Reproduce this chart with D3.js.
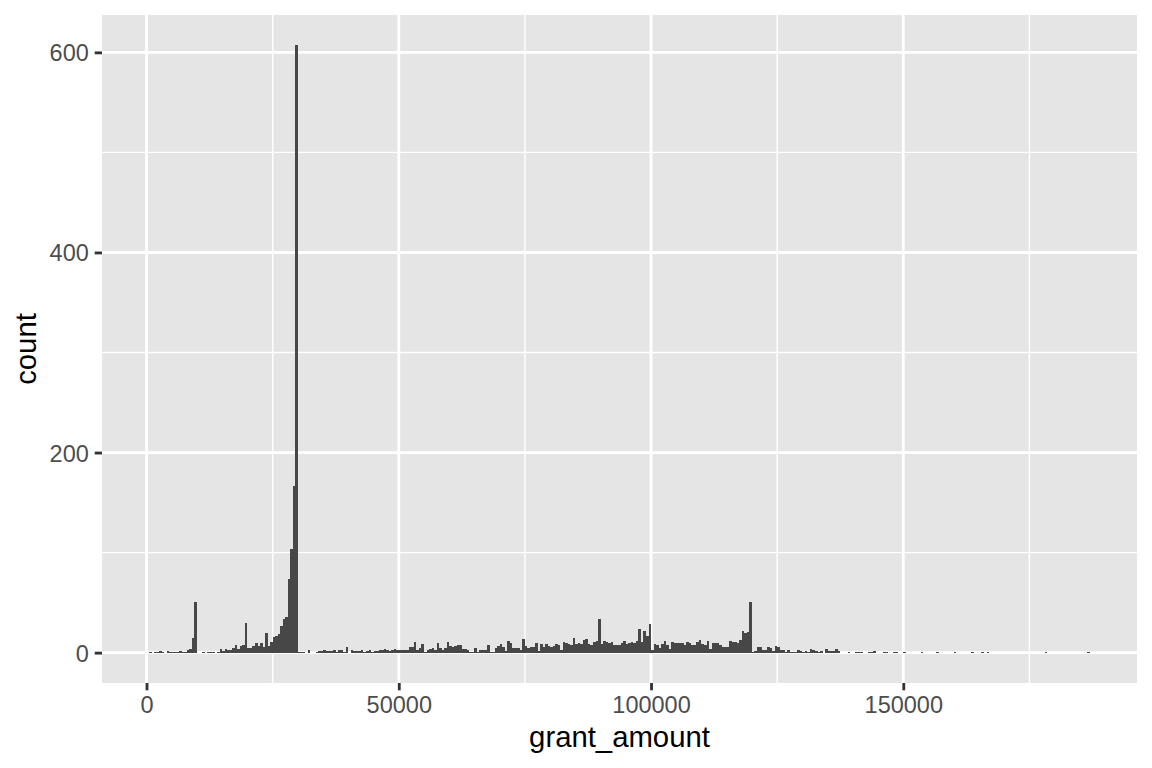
<!DOCTYPE html>
<html>
<head>
<meta charset="utf-8">
<script src="https://cdn.jsdelivr.net/npm/d3@7"></script>
<style>
  html, body { margin: 0; padding: 0; background: #ffffff; }
  svg { display: block; }
</style>
</head>
<body>
<script>
// ---- Data: histogram of grant_amount, bin width 500, first bin (500, 1000] ----
const binWidth = 500;
const firstEdge = 500;
// bins 500 .. 30000
const counts500to30k = [1,0,1,1,2,1,0,2,1,1,1,1,2,1,1,3,4,15,51,0,0,1,0,1,1,1,0,1,4,2,4,3,3,5,8,4,7,8,30,5,5,7,10,7,10,6,20,7,11,16,17,19,27,34,36,74,104,167,607];
// bins 30000 .. 50000
const counts30kto50k = [1,1,1,0,3,0,0,1,2,2,3,2,2,2,3,1,3,3,1,6,0,3,2,2,2,3,1,2,3,1,2,2,3,3,4,3,2,3,4,3];
// bins 50000 .. 75000
const counts50kto75k = [3,3,3,3,6,6,11,3,5,9,1,3,4,5,3,10,5,3,5,11,7,6,7,8,8,4,4,3,1,1,5,1,3,3,3,8,1,1,5,7,9,6,2,12,10,5,5,5,3,14];
// bins 75000 .. 100000
const counts75kto100k = [7,5,6,6,10,2,9,6,9,7,6,7,9,8,3,11,10,9,8,15,9,10,9,13,14,9,8,11,12,34,9,12,11,10,11,8,8,8,10,12,9,10,11,10,12,24,11,22,17,29];
// bins 100000 .. 120000
const counts100kto120k = [3,9,8,5,9,12,8,4,11,10,10,10,10,8,11,10,8,8,11,13,9,8,12,4,10,10,10,8,6,6,6,12,11,11,10,13,22,20,21,51];
// bins 120000 .. 150000
const counts120kto150k = [1,2,6,6,3,3,6,5,2,7,6,3,3,1,3,1,1,1,3,2,1,2,1,4,3,2,1,2,0,4,2,2,2,4,2,0,0,0,1,0,0,1,1,1,0,0,1,1,2,0,0,0,1,1,0,0,1,1,0,0];
// bins 150000 .. 187000
const counts150kto187k = [1,0,0,0,0,0,0,1,0,0,0,0,0,1,0,0,0,0,0,0,1,0,0,0,0,0,0,1,0,0,0,1,0,1,0,0,0,0,0,0,0,0,0,0,0,0,0,0,0,0,0,0,0,0,0,0,1,0,0,0,0,0,0,0,0,0,0,0,0,0,0,0,0,1];

const xTicks = [0, 50000, 100000, 150000];
const xMinorTicks = [25000, 75000, 125000, 175000];
const yTicks = [0, 200, 400, 600];
const yMinorTicks = [100, 300, 500];
const xTitle = "grant_amount";
const yTitle = "count";

// ---- Build bins ----
const allCounts = [].concat(counts500to30k, counts30kto50k, counts50kto75k,
  counts75kto100k, counts100kto120k, counts120kto150k, counts150kto187k);
const bins = allCounts.map((c, i) => ({
  x0: firstEdge + i * binWidth,
  x1: firstEdge + (i + 1) * binWidth,
  count: c
}));

// ---- Layout (ggplot2 theme_grey at 192 dpi) ----
const W = 1152, H = 768;
const panel = { left: 102, right: 1137, top: 15, bottom: 683 };
const FONT = "'Liberation Sans', Arial, Helvetica, sans-serif";

const xLo = d3.min(bins, d => d.x0), xHi = d3.max(bins, d => d.x1);
const xPad = (xHi - xLo) * 0.05;
const x = d3.scaleLinear().domain([xLo - xPad, xHi + xPad]).range([panel.left, panel.right]);
const yMax = d3.max(bins, d => d.count);
const y = d3.scaleLinear().domain([-yMax * 0.05, yMax * 1.05]).range([panel.bottom, panel.top]);

const svg = d3.select("body").append("svg").attr("width", W).attr("height", H);
svg.append("rect").attr("width", W).attr("height", H).attr("fill", "#ffffff");

// Panel background
svg.append("rect")
  .attr("x", panel.left).attr("y", panel.top)
  .attr("width", panel.right - panel.left).attr("height", panel.bottom - panel.top)
  .attr("fill", "#E5E5E5");

const grid = svg.append("g");
grid.selectAll(".xminor").data(xMinorTicks).enter().append("line")
  .attr("x1", d => x(d)).attr("x2", d => x(d))
  .attr("y1", panel.top).attr("y2", panel.bottom)
  .attr("stroke", "#ffffff").attr("stroke-width", 1.42);
grid.selectAll(".yminor").data(yMinorTicks).enter().append("line")
  .attr("y1", d => y(d)).attr("y2", d => y(d))
  .attr("x1", panel.left).attr("x2", panel.right)
  .attr("stroke", "#ffffff").attr("stroke-width", 1.42);
grid.selectAll(".xmajor").data(xTicks).enter().append("line")
  .attr("x1", d => x(d)).attr("x2", d => x(d))
  .attr("y1", panel.top).attr("y2", panel.bottom)
  .attr("stroke", "#ffffff").attr("stroke-width", 2.84);
grid.selectAll(".ymajor").data(yTicks).enter().append("line")
  .attr("y1", d => y(d)).attr("y2", d => y(d))
  .attr("x1", panel.left).attr("x2", panel.right)
  .attr("stroke", "#ffffff").attr("stroke-width", 2.84);

// Bars
svg.append("g").attr("shape-rendering", "crispEdges")
  .selectAll("rect").data(bins.filter(d => d.count > 0)).enter().append("rect")
  .attr("x", d => x(d.x0))
  .attr("width", d => x(d.x1) - x(d.x0))
  .attr("y", d => y(d.count))
  .attr("height", d => y(0) - y(d.count))
  .attr("fill", "#474747");

// Axes
const tickLen = 7.3, tickPad = 5.9;
const xAxis = d3.axisBottom(x).tickValues(xTicks).tickFormat(d3.format("d"))
  .tickSize(tickLen).tickPadding(tickPad);
const gx = svg.append("g").attr("transform", `translate(0,${panel.bottom})`).call(xAxis);
gx.select(".domain").remove();
gx.selectAll(".tick line").attr("stroke", "#333333").attr("stroke-width", 2.84);
gx.selectAll(".tick text").attr("fill", "#4D4D4D").attr("dy", "0.72em")
  .style("font-family", FONT).style("font-size", "23.5px");

const yAxis = d3.axisLeft(y).tickValues(yTicks).tickFormat(d3.format("d"))
  .tickSize(tickLen).tickPadding(tickPad);
const gy = svg.append("g").attr("transform", `translate(${panel.left},0)`).call(yAxis);
gy.select(".domain").remove();
gy.selectAll(".tick line").attr("stroke", "#333333").attr("stroke-width", 2.84);
gy.selectAll(".tick text").attr("fill", "#4D4D4D").attr("dy", "0.36em")
  .style("font-family", FONT).style("font-size", "23.5px");

// Axis titles
svg.append("text")
  .attr("x", (panel.left + panel.right) / 2).attr("y", 747)
  .attr("text-anchor", "middle")
  .style("font-family", FONT).style("font-size", "29.3px").attr("fill", "#000000")
  .text(xTitle);
svg.append("text")
  .attr("transform", `translate(36,${(panel.top + panel.bottom) / 2}) rotate(-90)`)
  .attr("text-anchor", "middle")
  .style("font-family", FONT).style("font-size", "29.3px").attr("fill", "#000000")
  .text(yTitle);
</script>
</body>
</html>
